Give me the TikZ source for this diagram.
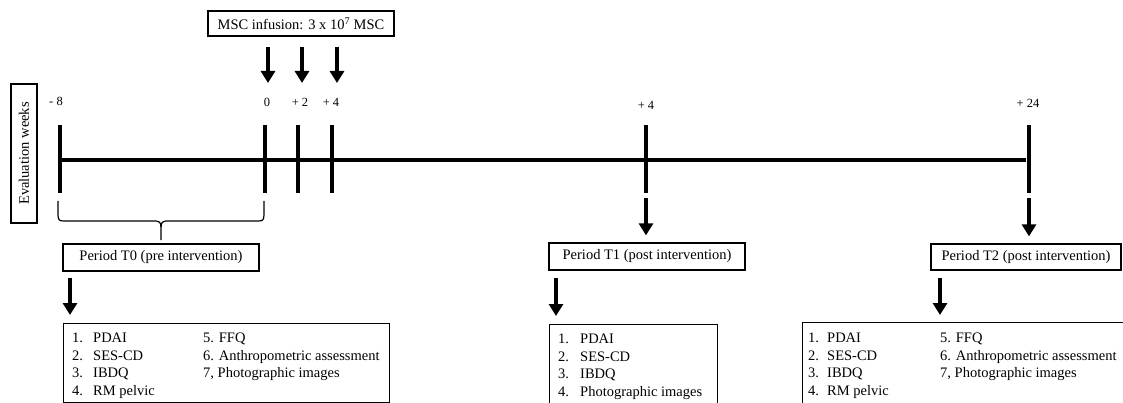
\documentclass[tikz,border=0pt]{standalone}
\usepackage{fontspec}
\setmainfont{Liberation Serif}
\usetikzlibrary{arrows.meta}
\begin{document}
\begin{tikzpicture}[x=1pt,y=-1pt,
  box/.style={draw, line width=1.3pt, inner sep=0pt, font=\fontsize{14.5}{16}\selectfont},
  arr/.style={line width=4pt, -{Triangle[width=14pt,length=12pt]}},
  tickline/.style={line width=4pt},
  lab/.style={font=\fontsize{12.5}{14}\selectfont, inner sep=0pt},
  itm/.style={font=\fontsize{14.5}{16}\selectfont, inner sep=0pt, anchor=base west},
  bracepath/.style={line width=1.2pt},
]
\useasboundingbox (0,0) rectangle (1123,403);

% top box
\node[box, minimum width=186pt, minimum height=25pt] (M) at (301,23.5) {MSC infusion: 3 x 10\textsuperscript{7} MSC};

% evaluation weeks box
\node[box, rotate=90, minimum width=139pt, minimum height=26pt] (E) at (24,153.5) {Evaluation weeks};

% MSC arrows
\coordinate (m0) at (268,47);
\coordinate (m2) at (302,47);
\coordinate (m4) at (337,47);
\coordinate (m0e) at (268,83);
\coordinate (m2e) at (302,83);
\coordinate (m4e) at (337,83);
\draw[arr] (m0) -- (m0e);
\draw[arr] (m2) -- (m2e);
\draw[arr] (m4) -- (m4e);

% labels
\node[lab] (lm8) at (56,101) {- 8};
\node[lab] (l0) at (267,102) {0};
\node[lab] (lp2) at (300,102) {+ 2};
\node[lab] (lp4) at (331,102) {+ 4};
\node[lab] (lw4) at (646,105) {+ 4};
\node[lab] (lw24) at (1028,103) {+ 24};

% timeline
\coordinate (tl0) at (60,160);
\coordinate (tl1) at (1026,160);
\draw[tickline] (tl0) -- (tl1);
\foreach \x/\n in {60/a,265/b,298/c,332/d,646/e,1029/f}{
  \coordinate (k\n t) at (\x,125);
  \coordinate (k\n b) at (\x,193);
  \draw[tickline] (k\n t) -- (k\n b);
}

% brace
\draw[bracepath] (58,201) -- (58,214) .. controls (58,220) and (59,221) .. (64,221) -- (153,221) .. controls (158,221) and (161,221) .. (161,227) -- (161,240);
\draw[bracepath] (264,201) -- (264,214) .. controls (264,220) and (263,221) .. (258,221) -- (169,221) .. controls (164,221) and (161,221) .. (161,227);

% period boxes
\node[box, minimum width=196pt, minimum height=27pt] (P0) at (161,257.5) {Period T0 (pre intervention)};
\node[box, minimum width=196pt, minimum height=27pt] (P1) at (647,256.5) {Period T1 (post intervention)};
\node[box, minimum width=190pt, minimum height=26pt] (P2) at (1026,257) {Period T2 (post intervention)};

% arrows from timeline to period boxes
\coordinate (s1) at (646,198);
\coordinate (s2) at (1029,198);
\draw[arr, shorten >=7pt] (s1) -- (s1 |- P1.north);
\draw[arr, shorten >=7pt] (s2) -- (s2 |- P2.north);

% list boxes
\node[box, anchor=north west, minimum width=326pt, minimum height=79pt] (L0) at (63,323) {};
\node[box, anchor=north west, minimum width=168pt, minimum height=90pt] (L1) at (549,324) {};
\node[box, anchor=north west, minimum width=330pt, minimum height=90pt] (L2) at (802,322) {};

% arrows from period boxes to lists
\coordinate (b0) at (70,278);
\coordinate (b1) at (556,278);
\coordinate (b2) at (940,278);
\draw[arr, shorten >=8pt] (b0) -- (b0 |- L0.north);
\draw[arr, shorten >=8pt] (b1) -- (b1 |- L1.north);
\draw[arr, shorten >=7pt] (b2) -- (b2 |- L2.north);

% list T0
\node[itm] (n01) at (72,342) {1.};
\node[itm] (t01) at (93,342) {PDAI};
\node[itm] (n02) at (72,360) {2.};
\node[itm] (t02) at (93,360) {SES-CD};
\node[itm] (n03) at (72,377) {3.};
\node[itm] (t03) at (93,377) {IBDQ};
\node[itm] (n04) at (72,395) {4.};
\node[itm] (t04) at (93,395) {RM pelvic};
\node[itm] (t05) at (203,342) {5. FFQ};
\node[itm] (t06) at (203,360) {6. Anthropometric assessment};
\node[itm] (t07) at (203,377) {7, Photographic images};

% list T1
\node[itm] (n11) at (558,343) {1.};
\node[itm] (t11) at (580,343) {PDAI};
\node[itm] (n12) at (558,361) {2.};
\node[itm] (t12) at (580,361) {SES-CD};
\node[itm] (n13) at (558,378) {3.};
\node[itm] (t13) at (580,378) {IBDQ};
\node[itm] (n14) at (558,396) {4.};
\node[itm] (t14) at (580,396) {Photographic images};

% list T2
\node[itm] (n21) at (808,342) {1.};
\node[itm] (t21) at (827,342) {PDAI};
\node[itm] (n22) at (808,360) {2.};
\node[itm] (t22) at (827,360) {SES-CD};
\node[itm] (n23) at (808,377) {3.};
\node[itm] (t23) at (827,377) {IBDQ};
\node[itm] (n24) at (808,395) {4.};
\node[itm] (t24) at (827,395) {RM pelvic};
\node[itm] (t25) at (940,342) {5. FFQ};
\node[itm] (t26) at (940,360) {6. Anthropometric assessment};
\node[itm] (t27) at (940,377) {7, Photographic images};
\end{tikzpicture}
\end{document}
